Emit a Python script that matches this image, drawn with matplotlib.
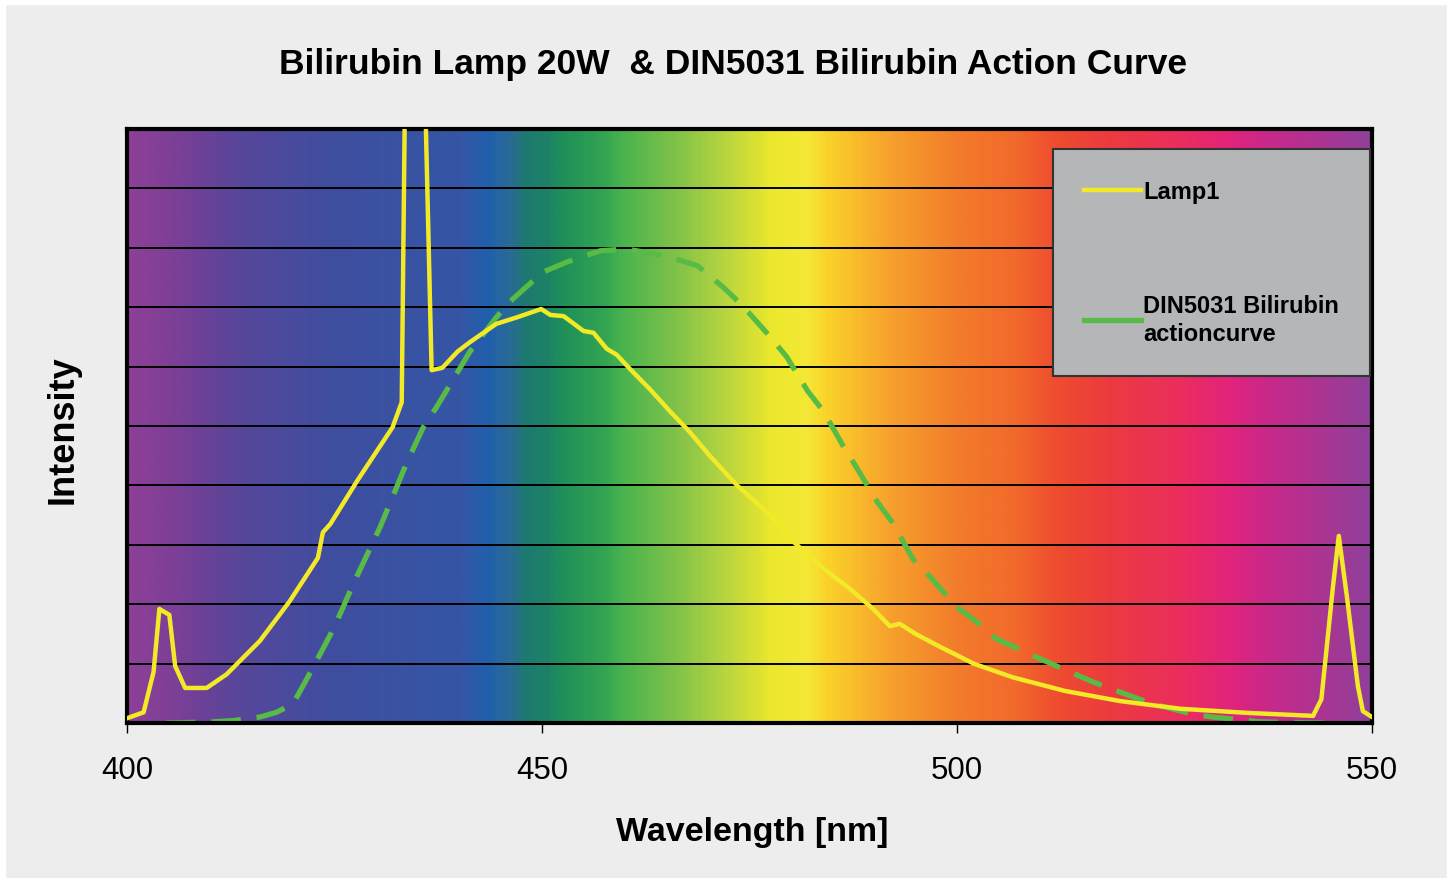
import numpy as np
import matplotlib
matplotlib.use('Agg')
import matplotlib.pyplot as plt
from matplotlib.colors import LinearSegmentedColormap
from matplotlib.patches import Rectangle

plt.rcParams['font.family'] = ['Liberation Sans', 'DejaVu Sans']

# Lamp1 spektrum
lamp_wl = [400, 402, 403.2, 403.9, 405.1, 405.8, 407, 409.6, 412, 416, 419.6, 423, 423.6, 424.5,
           427.7, 432, 433.1, 433.9, 435.0, 436.7, 438, 439.8, 441.3, 444.5, 447, 449.9, 451,
           452.6, 455, 456.2, 457.8, 459, 460.6, 463, 465.4, 467.8, 470.2, 473.5, 477.1, 480.3,
           483.9, 487.1, 489.9, 491.9, 493.1, 495, 498, 502, 506.7, 513, 519.6, 526.9, 535,
           542.9, 543.9, 545.3, 546, 547, 548.3, 548.9, 550]
lamp_val = [0.08, 0.18, 0.86, 1.92, 1.82, 0.96, 0.59, 0.59, 0.82, 1.38, 2.05, 2.78, 3.21, 3.35,
            4.07, 4.98, 5.4, 16, 16, 5.94, 5.98, 6.25, 6.41, 6.72, 6.83, 6.97, 6.87,
            6.85, 6.6, 6.57, 6.3, 6.2, 5.96, 5.62, 5.25, 4.9, 4.5, 4.0, 3.55, 3.05,
            2.6, 2.26, 1.92, 1.63, 1.67, 1.5, 1.28, 1.0, 0.77, 0.54, 0.37, 0.24, 0.17,
            0.12, 0.4, 2.3, 3.15, 2.1, 0.62, 0.2, 0.1]

# DIN5031 action curve
din_wl = [404.7, 408, 410.4, 412.8, 416, 418, 420, 422.4, 425, 427.2, 430.5, 433.7, 435.7, 437.3,
          440.1, 441.3, 444.5, 446.5, 450.1, 453, 457, 460.2, 465, 468.7, 471.8, 474.2, 477.5,
          479.5, 482, 483.9, 486.3, 487.9, 490.4, 492.2, 494.7, 496.7, 500, 502.4, 504.8, 506.6,
          509.2, 513.6, 516.4, 521.2, 523.6, 528.4, 530.8, 536.5, 540, 544.6]
din_val = [0, 0.01, 0.02, 0.04, 0.1, 0.18, 0.32, 0.93, 1.62, 2.32, 3.3, 4.38, 4.98, 5.32,
           5.97, 6.25, 6.83, 7.14, 7.59, 7.76, 7.95, 7.98, 7.86, 7.7, 7.34, 7.02, 6.5,
           6.16, 5.59, 5.25, 4.66, 4.3, 3.72, 3.38, 2.76, 2.47, 1.95, 1.7, 1.41, 1.3,
           1.13, 0.86, 0.69, 0.44, 0.32, 0.15, 0.1, 0.02, 0.01, 0]

xticks = [400, 450, 500, 550]

# hintergrund farbverlauf
spec_wl = [400, 406, 412, 418, 424, 432, 440, 443.4, 446, 448, 450.6, 452, 457.8, 459.8, 465.8,
           471.8, 477.8, 482, 484.3, 488, 492, 496, 500.4, 507, 512.4, 518.8, 527, 532.9,
           536.9, 542.9, 550]
spec_col = ['#8e3f98', '#7a3f96', '#5c4599', '#4c4a9d', '#404d9f', '#3a52a2', '#3556a5',
            '#2060ac', '#2a6a95', '#1d7a70', '#1e8266', '#1e8d5a', '#35a652', '#4bb44d',
            '#7ec14a', '#b5d440', '#ece82c', '#f4e936', '#fbd32a', '#f9bb2b', '#f7a12d',
            '#f58f2b', '#f27b2b', '#f26a2b', '#ee4c2f', '#ec3a40', '#eb2e5d', '#e3247a',
            '#cd2789', '#b23290', '#90409a']

pos = [(w - 400) / 150 for w in spec_wl]
cmap = LinearSegmentedColormap.from_list('spec', list(zip(pos, spec_col)))

fig = plt.figure(figsize=(14.5, 8.79), dpi=100, facecolor='#ededed')
fig.add_artist(Rectangle((0, 1 - 5 / 879), 1, 5 / 879, color='white', transform=fig.transFigure))
fig.add_artist(Rectangle((0, 0), 5 / 1450, 1, color='white', transform=fig.transFigure))
fig.add_artist(Rectangle((1 - 3 / 1450, 0), 3 / 1450, 1, color='white', transform=fig.transFigure))

ax = fig.add_axes([127 / 1450, 1 - 724 / 879, 1245 / 1450, 594 / 879])

grad = np.linspace(0, 1, 600).reshape(1, -1)
ax.imshow(grad, cmap=cmap, aspect='auto', extent=[400, 550, 0, 10], zorder=0)

for y in range(1, 10):
    ax.axhline(y, color='black', lw=1.4, zorder=1)

ax.plot(lamp_wl, lamp_val, color='#f2ea27', lw=3.2, label='Lamp1', zorder=3)
ax.plot(din_wl, din_val, color='#58bb46', lw=3.8, ls=(0, (5.6, 3.0)),
        label='DIN5031 Bilirubin\nactioncurve', zorder=2)

ax.set_xlim(400, 550)
ax.set_ylim(0, 10)
ax.set_xticks(xticks)
ax.set_xticklabels([str(t) for t in xticks], fontsize=22.5)
ax.set_yticks([])
ax.tick_params(axis='x', direction='out', length=7, width=1, pad=16)

for s in ax.spines.values():
    s.set_linewidth(3)
    s.set_color('black')

ax.set_xlabel('Wavelength [nm]', fontsize=24.5, fontweight='bold', va='center')
ax.xaxis.set_label_coords(0.502, -0.1835)
ax.set_ylabel('Intensity', fontsize=26, fontweight='bold', va='center')
ax.yaxis.set_label_coords(-0.0514, 0.495)

ax.set_title('Bilirubin Lamp 20W  & DIN5031 Bilirubin Action Curve', fontsize=25.5,
             fontweight='bold', x=0.487, y=1.111, va='center', pad=0)

leg = ax.legend(loc='upper right', bbox_to_anchor=(0.998, 0.966), borderaxespad=0,
                prop={'size': 17, 'weight': 'bold'}, fancybox=False, framealpha=1,
                facecolor='#b4b6b8', edgecolor='#333333', borderpad=1.3,
                labelspacing=3.85, handlelength=2.4, handletextpad=0.1)
leg.get_frame().set_linewidth(1.5)
for h in leg.get_lines():
    h.set_linestyle('-')
for t in leg.get_texts():
    t.set_linespacing(1.3)

fig.savefig('out.png', dpi=100, facecolor=fig.get_facecolor())
